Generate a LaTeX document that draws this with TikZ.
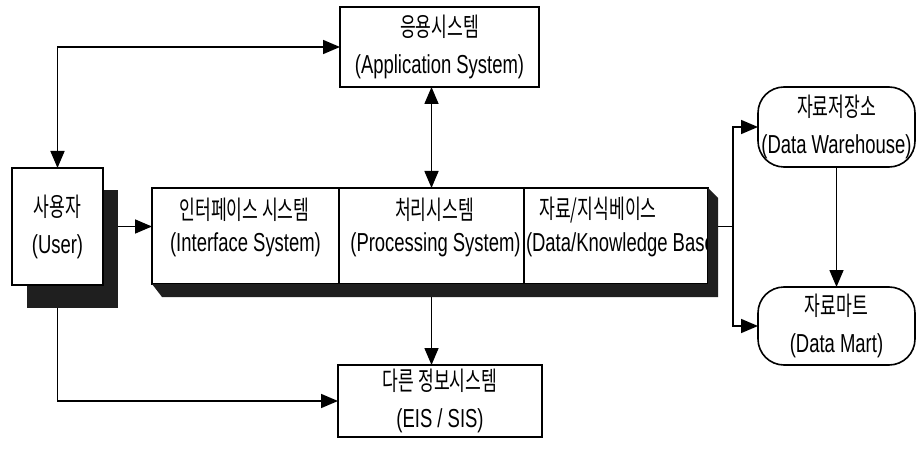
\documentclass[tikz,border=0pt]{standalone}
\usepackage{fontspec}
\setmainfont{Liberation Sans}[FakeStretch=0.71]
\newfontfamily\kr{Noto Sans CJK KR}[FakeStretch=0.66]
\usetikzlibrary{arrows.meta,calc}

\begin{document}
\begin{tikzpicture}[x=1pt,y=-1pt,
  every node/.style={inner sep=0pt,outer sep=0pt,font=\fontsize{26}{37}\selectfont},
  box/.style={draw,line width=1.6pt,fill=white,align=center},
  rbox/.style={box,rounded corners=26pt},
  tip/.tip={Triangle[length=17pt,width=14pt]},
  conn/.style={line width=1.6pt,-tip},
  biconn/.style={line width=1.6pt,tip-tip},
  plain/.style={line width=1.6pt},
  darkshade/.style={fill=black!88}
]
\useasboundingbox (0,0) rectangle (918,449);

% user block with its heavy drop shadow
\node[darkshade,minimum width=91pt,minimum height=118pt] (ushadow) at (72.5,249) {};
\node[box,minimum width=91pt,minimum height=117pt] (user) at (57.5,226.5)
  {{\kr 사용자}\\(User)};

% application system
\node[box,minimum width=199pt,minimum height=80pt] (app) at (439.5,47)
  {{\kr 응용시스템}\\(Application System)};

% three-part central block
\node[box,minimum width=187pt,minimum height=96pt] (iface) at (245.5,236) {};
\node[box,minimum width=185pt,minimum height=96pt] (proc) at (431.5,236) {};
\node[box,minimum width=184pt,minimum height=96pt] (kb) at (616,236) {};

\node (ifacekr) at ($(iface.center)+(-1,-26)$) {\kr 인터페이스 시스템};
\node (ifaceen) at ($(iface.center)+(0,9)$) {(Interface System)};
\node (prockr) at ($(proc.center)+(3,-26)$) {\kr 처리시스템};
\node (procen) at ($(proc.center)+(4,9)$) {(Processing System)};
\node (kbkr) at ($(kb.center)+(-18,-26)$) {\kr 자료/지식베이스};
\node[anchor=west] (kben) at ($(kb.west)+(2,9)$) {(Data/Knowledge Base};

% extruded shadow of the central block
\coordinate (mshadow) at ($(kb.south east)+(10,13)$);
\fill[darkshade] (iface.south west) -- ++(10,13) -- (mshadow)
  -- ($(kb.north east)+(10,10)$) -- (kb.north east) -- (kb.south east) -- cycle;

% other information systems
\node[box,minimum width=204pt,minimum height=72pt] (eis) at (440,401)
  {{\kr 다른 정보시스템}\\(EIS / SIS)};

% data warehouse and data mart
\node[rbox,minimum width=157pt,minimum height=80pt] (dw) at (836.5,127)
  {{\kr 자료저장소}\\(Data Warehouse)};
\node[rbox,minimum width=157pt,minimum height=78pt] (dm) at (836.5,326)
  {{\kr 자료마트}\\(Data Mart)};

% connectors
\draw[biconn] (user.north) |- (app.west);
\draw[conn] (ushadow.east |- user.east) -- (iface.west |- user.east);
\draw[biconn] (proc.north |- app.south) -- (proc.north);
\draw[conn] (proc.south |- mshadow) -- (proc.south |- eis.north);
\draw[conn] (user.south |- ushadow.south) |- (eis.west);
\coordinate (split) at ($(mshadow |- user.east)+(15,0)$);
\draw[plain] (mshadow |- user.east) -- (split);
\draw[conn] (split) |- (dw.west);
\draw[conn] (split) |- (dm.west);
\draw[conn] (dw.south) -- (dm.north);
\end{tikzpicture}
\end{document}
